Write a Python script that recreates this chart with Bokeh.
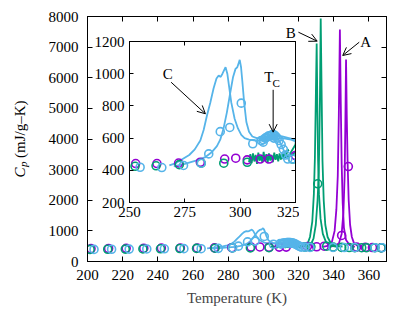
import math
from bokeh.plotting import figure
from bokeh.models import (ColumnDataSource, Range1d, LinearAxis, FixedTicker, Label,
                          Arrow, OpenHead, GridBox, Column)
from bokeh.embed import file_html
from bokeh.resources import INLINE

FONT = "Liberation Serif"
PURPLE = "#9400D3"
GREEN = "#009E73"
BLUE = "#56B4E9"

# ---------------- data (T in K, Cp in mJ/g-K) ----------------
# sample A (purple): scan curves
A1_T = [334, 337, 339, 340.5, 341.5, 342.3, 342.9, 343.5, 344.0, 344.5, 345.1, 345.8, 347, 349, 352]
A1_Cp = [480, 520, 650, 1000, 1700, 2800, 4800, 7575, 5200, 3200, 1900, 1100, 700, 540, 480]
A2_T = [338, 341, 343, 344.5, 345.5, 346.2, 346.6, 347.0, 347.4, 347.9, 348.5, 349.3, 350.3, 351.5, 353.5, 356]
A2_Cp = [490, 520, 600, 900, 1600, 2800, 4500, 6596, 4800, 3200, 2000, 1200, 800, 600, 510, 480]
# sample A: point measurements
A_mT = [202, 212, 222, 232, 242, 252.8, 262.4, 272.2, 282, 293, 298, 303.2, 309, 313, 325, 330.3, 334.6,
        344.5, 348.3, 353, 358, 362, 367]
A_mCp = [420, 425, 430, 435, 440, 442, 442, 445, 450, 470, 475, 465, 470, 470, 492, 480, 500,
         850, 3100, 470, 460, 455, 450]

# sample B (green): scan curves
B1_T = [318, 322, 325, 326.5, 327.8, 328.7, 329.3, 329.8, 330.3, 330.7, 331.1, 331.6, 332.5, 333.8, 335.5, 338, 342]
B1_Cp = [470, 490, 560, 800, 1300, 2200, 3400, 5300, 7118, 5000, 3300, 2200, 1400, 900, 650, 520, 480]
B2_T = [320, 324, 327, 328.5, 329.8, 330.8, 331.5, 332.1, 332.6, 333.1, 333.6, 334.3, 335.2, 336.5, 338.5, 341, 345]
B2_Cp = [480, 500, 560, 750, 1200, 2000, 2900, 5000, 7935, 5600, 3300, 2000, 1200, 800, 580, 510, 490]
# sample B: noisy dense scan below T_C
B3_T = [304.0, 304.6, 305.2, 305.8, 306.4, 307.0, 307.6, 308.2, 308.8, 309.4, 310.0, 310.6, 311.2, 311.8,
        312.4, 313.0, 313.6, 314.2, 314.8, 315.4, 316.0, 316.6, 317.2, 317.8, 318.4, 319.0, 319.6, 320.2,
        320.8, 321.4, 322.0]
B3_Cp = [450, 500, 445, 505, 455, 495, 440, 510, 460, 490, 450, 515, 455, 500, 445, 505, 460, 495, 450,
         510, 465, 500, 455, 505, 470, 500, 480, 520, 490, 530, 520]
# sample B: point measurements
B_mT = [201.5, 211.5, 221.5, 231.5, 241.5, 252.5, 262, 272.5, 282.4, 292.6, 303.2, 323.7, 327, 330.9,
        336, 339.7, 344.5, 348.8, 352, 355.9, 358.7, 363.4, 367]
B_mCp = [395, 400, 405, 410, 415, 425, 428, 435, 444, 444, 450, 470, 480, 2537,
         500, 470, 460, 455, 450, 450, 450, 450, 445]

# sample C (blue): scan curves
C1_T = [268, 271, 274, 277, 279.5, 282, 283.5, 285, 286.5, 288, 289.3, 290.3, 291.2, 292, 292.7, 293.4,
        294.2, 295, 296, 297.5, 299, 300.5, 302, 304, 307, 311, 315, 319, 323, 325]
C1_Cp = [430, 445, 470, 495, 530, 585, 650, 740, 820, 910, 970, 989, 980, 1000, 1020, 1040,
         1000, 920, 820, 720, 660, 620, 600, 590, 585, 585, 590, 600, 590, 580]
C2_T = [270, 275, 280, 284, 287, 289.5, 291, 292.5, 294, 295.5, 296.8, 297.9, 298.7, 299.3, 299.8,
        300.4, 301, 301.8, 302.8, 304, 305.5, 307.5, 310, 313, 316, 319, 322, 325]
C2_Cp = [425, 440, 460, 480, 510, 550, 590, 660, 760, 880, 980, 1030, 1040, 1065, 1086,
         1040, 950, 820, 700, 640, 610, 600, 600, 605, 615, 610, 600, 590]
# sample C: dense points around T_C
C3_T = [309.5, 310.5, 311.3, 312, 312.7, 313.4, 314, 314.6, 315.3, 316, 316.8, 317.6, 318.5, 319.5, 320.5, 321.5]
C3_Cp = [585, 590, 600, 605, 612, 615, 618, 622, 620, 612, 600, 585, 560, 530, 495, 470]
# sample C: point measurements
C_mT = [203.7, 213.7, 223.7, 233.7, 243.7, 254.8, 264.6, 274.4, 282.4, 285.8, 291, 295.3, 300.5, 305.7,
        310.4, 315.2, 323.7, 326.5, 339.6, 346, 352, 363.4, 367.5]
C_mCp = [395, 400, 405, 410, 415, 419, 417, 430, 444, 502, 640, 666, 817, 565,
         575, 600, 470, 460, 460, 455, 455, 450, 450]

# axis ticks
main_xticks = [200, 220, 240, 260, 280, 300, 320, 340, 360]
main_yticks = [0, 1000, 2000, 3000, 4000, 5000, 6000, 7000, 8000]
inset_xticks = [250, 275, 300, 325]
inset_yticks = [200, 400, 600, 800, 1000, 1200]

# annotations (text, x, y) and arrows (x0, y0, x1, y1)
main_texts = [("B", 315.6, 7468), ("A", 358.1, 7161)]
main_arrows = [(319.9, 7488, 330.6, 7194), (354.5, 7161, 345.1, 6727)]
inset_texts = [("C", 267.3, 999), ("T", 312.9, 981)]
inset_sub = [("C", 316.3, 940)]
inset_arrows = [(268.8, 947, 284.3, 751), (314.9, 900, 314.9, 637)]
# y-axis title pieces in the title strip (pixel units): (text, x, y, size, style)
ytitle = [("C", 19, 133, "15px", "italic"), ("p", 22, 143.5, "11px", "italic"),
          ("(mJ/g\u2013K)", 19, 152.5, "15px", "normal")]

# ---------------- helpers ----------------
def style_axis(ax, ticks, labels, tick_len, standoff, size="15px"):
    ax.ticker = FixedTicker(ticks=ticks)
    ax.major_tick_in = tick_len
    ax.major_tick_out = 0
    ax.minor_tick_line_color = None
    ax.axis_line_color = "black"
    ax.axis_line_width = 1
    ax.major_tick_line_color = "black"
    ax.major_tick_line_width = 1
    ax.major_label_text_font = FONT
    ax.major_label_text_font_size = size
    ax.major_label_text_color = "black"
    ax.major_label_standoff = standoff
    if not labels:
        ax.major_label_overrides = {t: "" for t in ticks}
        ax.major_label_standoff = 0


def draw(fig):
    lines = [(A1_T, A1_Cp, PURPLE), (A2_T, A2_Cp, PURPLE),
             (B3_T, B3_Cp, GREEN), (B1_T, B1_Cp, GREEN), (B2_T, B2_Cp, GREEN),
             (C1_T, C1_Cp, BLUE), (C2_T, C2_Cp, BLUE), (C3_T, C3_Cp, BLUE)]
    for t, c, col in lines:
        fig.line(x="T", y="Cp", source=ColumnDataSource(dict(T=t, Cp=c)),
                 line_color=col, line_width=1.8)
    pts = [(A_mT, A_mCp, PURPLE), (B_mT, B_mCp, GREEN), (C_mT, C_mCp, BLUE), (C3_T, C3_Cp, BLUE)]
    for t, c, col in pts:
        fig.scatter(x="T", y="Cp", source=ColumnDataSource(dict(T=t, Cp=c)), marker="circle",
                    size=8, fill_color=None, line_color=col, line_width=1.6)


def add_arrows(fig, arrows):
    for x0, y0, x1, y1 in arrows:
        fig.add_layout(Arrow(x_start=x0, y_start=y0, x_end=x1, y_end=y1, line_color="black",
                             line_width=1, end=OpenHead(size=8, line_color="black", line_width=1)))


def add_texts(fig, texts, size="15px"):
    for t, x, y in texts:
        fig.add_layout(Label(x=x, y=y, text=t, text_font=FONT, text_font_size=size,
                             text_align="center", text_baseline="middle", text_color="black"))


# ---------------- main figure ----------------
main = figure(width=400, height=310, x_range=Range1d(200, 370), y_range=Range1d(0, 8000),
              output_backend="svg", toolbar_location=None,
              min_border_left=87, min_border_right=14, min_border_top=16, min_border_bottom=49)
main.grid.visible = False
main.outline_line_color = "black"
main.background_fill_color = "white"
main.border_fill_color = "white"

style_axis(main.xaxis[0], main_xticks, True, 5, 8)
style_axis(main.yaxis[0], main_yticks, True, 5, 9)
main.xaxis[0].axis_label = "Temperature (K)"
main.xaxis[0].axis_label_text_font = FONT
main.xaxis[0].axis_label_text_font_size = "15px"
main.xaxis[0].axis_label_text_font_style = "normal"
main.xaxis[0].axis_label_standoff = 7

top_ax = LinearAxis()
style_axis(top_ax, main_xticks, False, 5, 0)
main.add_layout(top_ax, "above")
right_ax = LinearAxis()
style_axis(right_ax, main_yticks, False, 5, 0)
main.add_layout(right_ax, "right")

draw(main)
add_arrows(main, main_arrows)
add_texts(main, main_texts)

# ---------------- y-axis title strip ----------------
title = figure(width=32, height=310, x_range=Range1d(0, 32), y_range=Range1d(0, 310),
               output_backend="svg", toolbar_location=None,
               x_axis_location=None, y_axis_location=None,
               min_border_left=0, min_border_right=0, min_border_top=0, min_border_bottom=0)
title.grid.visible = False
title.outline_line_color = None
title.background_fill_alpha = 0
title.border_fill_alpha = 0
for t, x, y, sz, st in ytitle:
    title.add_layout(Label(x=x, y=y, text=t, angle=math.pi / 2, text_font=FONT,
                           text_font_size=sz, text_font_style=st, text_color="black",
                           text_align="left", text_baseline="alphabetic"))

# ---------------- inset figure ----------------
inset = figure(width=212, height=195, x_range=Range1d(250, 325), y_range=Range1d(200, 1200),
               output_backend="svg", toolbar_location=None,
               min_border_left=42, min_border_right=4, min_border_top=10, min_border_bottom=24)
inset.grid.visible = False
inset.outline_line_color = "black"
inset.background_fill_color = "white"
inset.border_fill_alpha = 0
style_axis(inset.xaxis[0], inset_xticks, True, 4, 4)
style_axis(inset.yaxis[0], inset_yticks, True, 4, 5)
itop = LinearAxis()
style_axis(itop, inset_xticks, False, 4, 0)
inset.add_layout(itop, "above")
iright = LinearAxis()
style_axis(iright, inset_yticks, False, 4, 0)
inset.add_layout(iright, "right")

draw(inset)
add_arrows(inset, inset_arrows)
add_texts(inset, inset_texts)
add_texts(inset, inset_sub, size="11px")

inset_holder = Column(children=[inset], margin=(31, 0, 0, 87))
title_holder = Column(children=[title], margin=(0, 0, 0, 0))
layout = GridBox(children=[(main, 0, 0), (title_holder, 0, 0), (inset_holder, 0, 0)])

open("out.html", "w").write(file_html(layout, INLINE))
